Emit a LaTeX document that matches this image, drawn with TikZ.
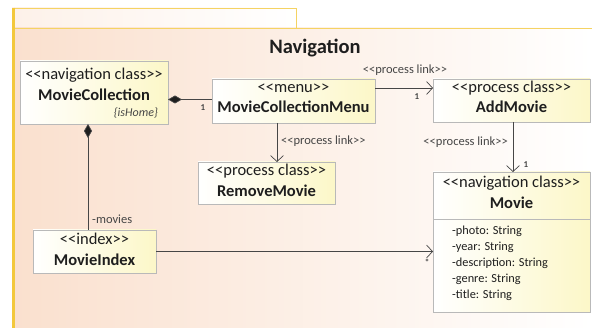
\documentclass[tikz,border=0pt]{standalone}
\usepackage{fontspec}
\setmainfont{Carlito}
\usetikzlibrary{arrows.meta}
\definecolor{peach}{RGB}{250,224,206}
\definecolor{frameyel}{RGB}{243,200,60}
\definecolor{boxyel}{RGB}{252,247,200}
\definecolor{boxline}{RGB}{185,185,185}
\definecolor{txt}{RGB}{30,30,30}
\definecolor{lbl}{RGB}{70,70,70}
\tikzset{
  box/.style={draw=boxline, line width=0.6pt, left color=white, right color=boxyel, inner sep=0pt, outer sep=0pt, anchor=north west},
  stereo/.style={font=\fontsize{16.5}{18}\selectfont, text=txt, anchor=base, inner sep=0pt},
  cname/.style={font=\fontsize{16.5}{18}\selectfont\bfseries, text=txt, anchor=base, inner sep=0pt},
  attr/.style={font=\fontsize{12.3}{14}\selectfont, text=txt, anchor=base west, inner sep=0pt},
  lab/.style={font=\fontsize{12.5}{14}\selectfont, text=lbl, anchor=base, inner sep=0pt},
  mult/.style={font=\fontsize{9}{10}\selectfont\bfseries, text=lbl, anchor=base, inner sep=0pt},
  conn/.style={draw=lbl, line width=0.7pt},
  openarr/.style={conn, -{Straight Barb[length=6pt,width=13pt]}},
  comp/.style={conn, {Diamond[length=14pt,width=8pt,fill=txt]}-}
}
\begin{document}
\begin{tikzpicture}[x=1pt,y=-1pt]
\useasboundingbox (0,0) rectangle (592,328);
\fill[white] (0,0) rectangle (592,328);
% package frame
\shade[left color=peach!45, right color=white] (12,8) rectangle (296,28);
\shade[left color=peach, right color=white] (12,28) rectangle (592,328);
\draw[frameyel!80, line width=0.8pt] (12,8) -- (296,8) -- (296,28);
\draw[frameyel!80, line width=0.8pt] (12,28) -- (592,28);
\draw[frameyel, line width=3pt] (13.5,7.6) -- (13.5,328);
\node[font=\fontsize{20.5}{22}\selectfont\bfseries, text=txt, anchor=base, inner sep=0pt] (title) at (315,53.5) {Navigation};

% boxes
\node[box, minimum width=148pt, minimum height=63pt] (mc) at (20,61) {};
\node[stereo] (mcs) at (94,80) {<{}<navigation class>{}>};
\node[cname] (mcn) at (94,101) {MovieCollection};
\node[font=\fontsize{12}{13}\selectfont\itshape, text=lbl, anchor=base east, inner sep=0pt] (mch) at (158,117) {\{isHome\}};

\node[box, minimum width=163pt, minimum height=44pt] (menu) at (212,79) {};
\node[stereo] (menus) at (293.5,93) {<{}<menu>{}>};
\node[cname] (menun) at (293.5,113) {MovieCollectionMenu};

\node[box, minimum width=157pt, minimum height=43pt] (add) at (433,79) {};
\node[stereo] (adds) at (511.5,93) {<{}<process class>{}>};
\node[cname] (addn) at (511.5,113) {AddMovie};

\node[box, minimum width=137pt, minimum height=42pt] (rem) at (198,162) {};
\node[stereo] (rems) at (266.5,176) {<{}<process class>{}>};
\node[cname] (remn) at (266.5,197) {RemoveMovie};

\node[box, minimum width=123pt, minimum height=43pt] (mi) at (33,230) {};
\node[stereo] (mis) at (94.5,245) {<{}<index>{}>};
\node[cname] (min) at (94.5,266) {MovieIndex};

\node[box, minimum width=157pt, minimum height=140pt] (mv) at (433,172) {};
\draw[boxline, line width=0.6pt] (mv.west |- 0,219) coordinate (dl) -- (mv.east |- dl);
\node[stereo] (mvs) at (511.5,188) {<{}<navigation class>{}>};
\node[cname] (mvn) at (511.5,209) {Movie};
\node[attr] (a1) at (452,235) {-photo: String};
\node[attr] (a2) at (452,251) {-year: String};
\node[attr] (a3) at (452,267) {-description: String};
\node[attr] (a4) at (452,283) {-genre: String};
\node[attr] (a5) at (452,299) {-title: String};

% connectors
\draw[comp] ([yshift=1.5pt]mc.east |- menu.west) -- ([yshift=1.5pt]menu.west);
\node[mult] (m1) at (203,111) {1};

\draw[comp] ([xshift=68pt]mc.south west) -- ([xshift=55pt]mi.north west);
\node[lab, anchor=base west] (movies) at (92,224) {-movies};

\draw[openarr] ([yshift=13pt]menu.east) -- ([yshift=13pt]menu.east -| add.west);
\node[lab] (pl1) at (405,73.5) {<{}<process link>{}>};
\node[mult] (m2) at (417,100) {1};

\draw[openarr] ([xshift=-16.5pt]menu.south) -- ([xshift=-16.5pt]menu.south |- rem.north);
\node[lab, anchor=base west] (pl2) at (281,145) {<{}<process link>{}>};

\draw[openarr] ([xshift=1.5pt]add.south) -- ([xshift=1.5pt]add.south |- mv.north);
\node[lab, anchor=base east] (pl3) at (508,146) {<{}<process link>{}>};
\node[mult] (m3) at (526,168) {1};

\draw[openarr] (mi.east) -- (mi.east -| mv.west);
\node[mult] (m4) at (427,266) {*};
\end{tikzpicture}
\end{document}
